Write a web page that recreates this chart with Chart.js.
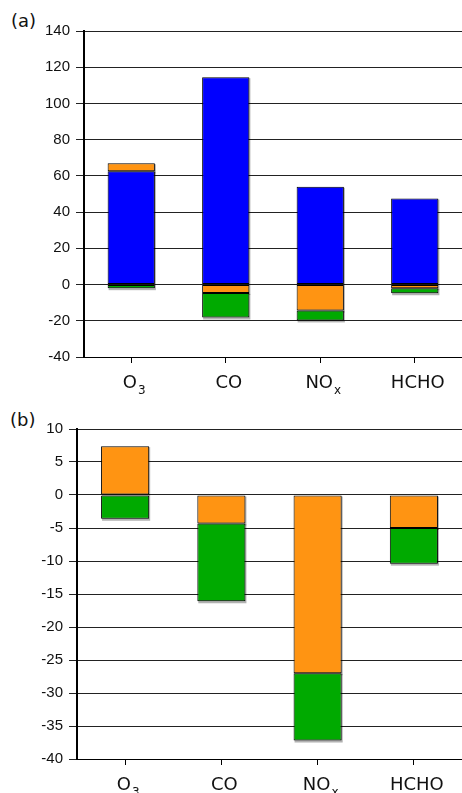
<!DOCTYPE html>
<html>
<head>
<meta charset="utf-8">
<script src="https://cdn.jsdelivr.net/npm/chart.js@4/dist/chart.umd.min.js"></script>
<style>
  body { margin: 0; background: #fff; width: 462px; height: 793px; position: relative; overflow: hidden; }
  .wrap { position: absolute; left: 0; width: 462px; }
  .panel-label { position: absolute; font-family: "DejaVu Sans", sans-serif; font-size: 18px; color: #111; }
</style>
</head>
<body>
<div class="panel-label" style="left:11px; top:10px;">(a)</div>
<div class="panel-label" style="left:10px; top:409px;">(b)</div>
<div class="wrap" style="top:0; height:400px;"><canvas id="chartA" width="462" height="400"></canvas></div>
<div class="wrap" style="top:400px; height:393px;"><canvas id="chartB" width="462" height="393"></canvas></div>
<script>
// categories: main text + subscript
var categories = ['O3', 'CO', 'NOx', 'HCHO'];
var catMain = ['O', 'CO', 'NO', 'HCHO'];
var catSub = ['3', '', 'x', ''];

// panel (a)
var aBlue = [62.5, 114.5, 54, 47.5];
var aOrange = [4.5, -4.6, -14.3, -2];
var aGreen = [-2, -13.6, -5.5, -2.8];
var aTicks = { min: -40, max: 140, step: 20 };

// panel (b)
var bOrange = [7.4, -4.3, -27, -5];
var bGreen = [-3.6, -11.8, -10.2, -5.4];
var bTicks = { min: -40, max: 10, step: 5 };

var BLUE = '#0000ff';
var ORANGE = '#ff9412';
var GREEN = '#00aa00';

// grey shadow behind every bar (1px to the right / bottom)
var shadowPlugin = {
    id: 'barShadow',
    beforeDatasetsDraw: function(chart) {
        var ctx = chart.ctx;
        ctx.save();
        ctx.fillStyle = 'rgba(0,0,0,0.3)';
        chart.data.datasets.forEach(function(d, i) {
            chart.getDatasetMeta(i).data.forEach(function(bar) {
                var p = bar.getProps(['x', 'y', 'base', 'width'], true);
                var top = Math.min(p.y, p.base);
                var h = Math.abs(p.base - p.y);
                ctx.fillRect(p.x - p.width / 2 + 1, top + 1, p.width, h + 1);
            });
        });
        ctx.restore();
    }
};

// x labels with real subscripts
var labelPlugin = {
    id: 'subLabels',
    afterDraw: function(chart) {
        var ctx = chart.ctx;
        var xs = chart.scales.x;
        var base = chart.chartArea.bottom + 31;
        ctx.save();
        ctx.fillStyle = '#111';
        ctx.textBaseline = 'alphabetic';
        ctx.textAlign = 'left';
        for (var i = 0; i < catMain.length; i++) {
            ctx.font = '18px "DejaVu Sans"';
            var w1 = ctx.measureText(catMain[i]).width;
            ctx.font = '12px "DejaVu Sans"';
            var w2 = catSub[i] ? ctx.measureText(catSub[i]).width + 1 : 0;
            var x0 = xs.getPixelForTick(i) + 3 - (w1 + w2) / 2;
            ctx.font = '18px "DejaVu Sans"';
            ctx.fillText(catMain[i], x0, base);
            if (catSub[i]) {
                ctx.font = '12px "DejaVu Sans"';
                ctx.fillText(catSub[i], x0 + w1 + 1, base + 6);
            }
        }
        ctx.restore();
    }
};

function ds(data, color) {
    return {
        data: data,
        backgroundColor: color,
        borderColor: '#000',
        borderWidth: 1,
        borderSkipped: false,
        barPercentage: 0.5,
        categoryPercentage: 1
    };
}

function makeChart(id, datasets, t, yWidth, padTop, xHeight) {
    var ctx = document.getElementById(id).getContext('2d');
    return new Chart(ctx, {
        type: 'bar',
        data: { labels: categories, datasets: datasets },
        plugins: [shadowPlugin, labelPlugin],
        options: {
            responsive: false,
            animation: false,
            layout: { padding: { top: padTop, right: 0, left: 0, bottom: 0 } },
            plugins: { legend: { display: false }, tooltip: { enabled: false } },
            scales: {
                x: {
                    stacked: true,
                    grid: { offset: false, drawOnChartArea: false, drawTicks: true, tickLength: 6, color: '#000' },
                    border: { display: true, color: '#000', width: 1 },
                    ticks: { display: false },
                    afterFit: function(scale) { scale.height = xHeight; }
                },
                y: {
                    stacked: true,
                    min: t.min,
                    max: t.max,
                    grid: { color: '#222', lineWidth: 1, drawTicks: true, tickLength: 8 },
                    border: { display: true, color: '#000', width: 2 },
                    ticks: {
                        stepSize: t.step,
                        padding: 6,
                        color: '#111',
                        font: { family: 'Liberation Sans', size: 15 }
                    },
                    afterFit: function(scale) { scale.width = yWidth; }
                }
            }
        }
    });
}

makeChart('chartA', [ds(aBlue, BLUE), ds(aOrange, ORANGE), ds(aGreen, GREEN)], aTicks, 84, 31, 43);
makeChart('chartB', [ds(bOrange, ORANGE), ds(bGreen, GREEN)], bTicks, 77, 29, 34);
</script>
</body>
</html>
